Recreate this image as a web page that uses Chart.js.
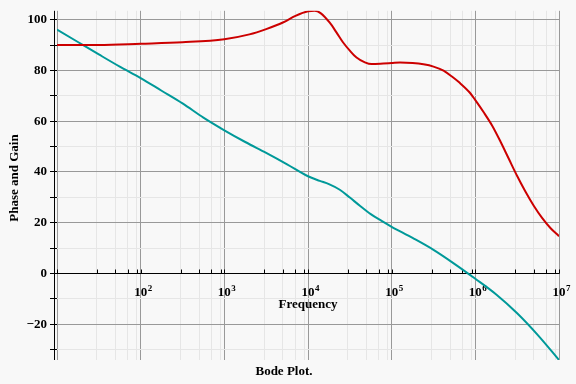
<!DOCTYPE html>
<html>
<head>
<meta charset="utf-8">
<script src="https://cdn.jsdelivr.net/npm/chart.js@4"></script>
<style>
  html, body { margin: 0; padding: 0; background: #f8f8f8; }
</style>
</head>
<body>
<canvas id="chart" width="576" height="384"></canvas>
<script>
// frequency as powers of ten
const phaseExp = [1.0, 1.5, 2.0, 2.5, 3.0, 3.3, 3.5, 3.7, 3.85, 4.0, 4.08, 4.15, 4.26, 4.34, 4.42, 4.5, 4.58, 4.68, 4.76, 4.9, 5.0, 5.1, 5.25, 5.38, 5.5, 5.62, 5.72, 5.81, 5.93, 6.0, 6.1, 6.2, 6.3, 6.4, 6.5, 6.6, 6.7, 6.8, 6.9, 7.0];
const phase = [90, 90, 90.5, 91.1, 92.3, 94.2, 96.3, 98.9, 101.5, 103.3, 103.5, 102.6, 98.8, 95, 91, 87.8, 85.1, 83.2, 82.5, 82.7, 82.9, 83.1, 82.9, 82.4, 81.5, 79.9, 77.6, 75.2, 71.4, 68.3, 63.5, 58.3, 52, 45.2, 38.4, 32.2, 26.6, 21.8, 17.8, 14.7];

const gainExp = [1.0, 1.25, 1.5, 1.75, 2.0, 2.25, 2.5, 2.75, 3.0, 3.25, 3.5, 3.75, 4.0, 4.14, 4.25, 4.38, 4.5, 4.62, 4.75, 4.875, 5.0, 5.25, 5.5, 5.75, 6.0, 6.25, 6.5, 6.75, 7.0];
const gain = [96.1, 91.2, 86.3, 81.5, 77, 72, 67, 61.4, 56.4, 51.8, 47.5, 43, 38.3, 36.5, 35.2, 33, 29.9, 26.7, 23.4, 20.8, 18.4, 14, 9.3, 3.8, -2.1, -8.3, -15.7, -24.4, -34.1];

const decades = [1, 2, 3, 4, 5, 6, 7];
const decadeLabels = [2, 3, 4, 5, 6, 7];
const minorMults = [3, 5, 7, 9];
const yTicks = [-30, -20, -10, 0, 10, 20, 30, 40, 50, 60, 70, 80, 90, 100];

const FONT = "'Liberation Serif', 'Times New Roman', serif";
const isDecade = v => Math.abs(Math.log10(v) - Math.round(Math.log10(v))) < 1e-9;

const pts = (ex, ys) => ex.map((e, i) => ({ x: Math.pow(10, e), y: ys[i] }));

const decor = {
  id: 'decor',
  beforeDraw(chart) {
    const c = chart.ctx;
    c.save();
    c.fillStyle = '#f8f8f8';
    c.fillRect(0, 0, chart.width, chart.height);
    c.restore();
  },
  beforeDatasetsDraw(chart) {
    const c = chart.ctx;
    const { left, right, top, bottom } = chart.chartArea;
    const xs = chart.scales.x, ys = chart.scales.y;
    const y0 = Math.round(ys.getPixelForValue(0)) + 0.5;
    c.save();
    c.strokeStyle = '#000';
    c.lineWidth = 1;
    c.beginPath();
    c.moveTo(left - 3, y0);
    c.lineTo(right + 0.5, y0);
    const ax = Math.round(left) - 2.5;
    c.moveTo(ax, top);
    c.lineTo(ax, bottom);
    xs.ticks.forEach(t => {
      const px = Math.round(xs.getPixelForValue(t.value)) + 0.5;
      c.moveTo(px, y0 - 4);
      c.lineTo(px, y0);
    });
    c.stroke();

    c.fillStyle = '#000';
    c.textBaseline = 'alphabetic';
    decadeLabels.forEach(e => {
      const px = xs.getPixelForValue(Math.pow(10, e));
      c.font = 'bold 13px ' + FONT;
      c.textAlign = 'center';
      c.fillText('10', px, y0 + 22);
      const w = c.measureText('10').width;
      c.font = 'bold 9px ' + FONT;
      c.textAlign = 'left';
      c.fillText(String(e), px + w / 2 + 0.5, y0 + 17);
    });

    c.font = 'bold 13px ' + FONT;
    c.textAlign = 'center';
    c.textBaseline = 'middle';
    c.fillText('Frequency', (left + right) / 2, 305);
    c.fillText('Bode Plot.', 284, 372);
    c.translate(15, 178);
    c.rotate(-Math.PI / 2);
    c.fillText('Phase and Gain', 0, 0);
    c.restore();
  }
};

new Chart(document.getElementById('chart'), {
  type: 'line',
  data: {
    datasets: [
      {
        label: 'Phase',
        data: pts(phaseExp, phase),
        borderColor: '#cc0000',
        borderWidth: 2,
        pointRadius: 0,
        cubicInterpolationMode: 'monotone',
        fill: false
      },
      {
        label: 'Gain',
        data: pts(gainExp, gain),
        borderColor: '#009999',
        borderWidth: 2,
        pointRadius: 0,
        cubicInterpolationMode: 'monotone',
        fill: false
      }
    ]
  },
  options: {
    responsive: false,
    animation: false,
    devicePixelRatio: 1,
    layout: { padding: { left: 0, right: 17, top: 9, bottom: 24 } },
    plugins: { legend: { display: false }, tooltip: { enabled: false } },
    scales: {
      x: {
        type: 'logarithmic',
        min: 10,
        max: 1e7,
        position: 'bottom',
        afterBuildTicks(scale) {
          const t = [];
          decades.forEach(d => {
            t.push({ value: Math.pow(10, d) });
            if (d < 7) minorMults.forEach(m => t.push({ value: m * Math.pow(10, d) }));
          });
          scale.ticks = t;
        },
        afterFit(scale) { scale.height = 0; },
        ticks: { display: false },
        border: { display: false },
        grid: {
          drawTicks: false,
          color: ctx => (ctx.tick && isDecade(ctx.tick.value)) ? '#999999' : '#e6e6e6'
        }
      },
      y: {
        min: -34.1,
        max: 103.5,
        afterBuildTicks(scale) {
          scale.ticks = yTicks.map(v => ({ value: v }));
        },
        afterFit(scale) { scale.width = 57; },
        border: { display: false },
        grid: {
          tickLength: 7,
          tickColor: '#000',
          color: ctx => (ctx.tick && ctx.tick.value % 20 === 0) ? '#999999' : '#e6e6e6'
        },
        ticks: {
          color: '#000',
          padding: 3,
          font: { family: FONT, size: 13, weight: 'bold' },
          callback: v => v % 20 === 0 ? (v < 0 ? '\u2212' + (-v) : String(v)) : ''
        }
      }
    }
  },
  plugins: [decor]
});
</script>
</body>
</html>
